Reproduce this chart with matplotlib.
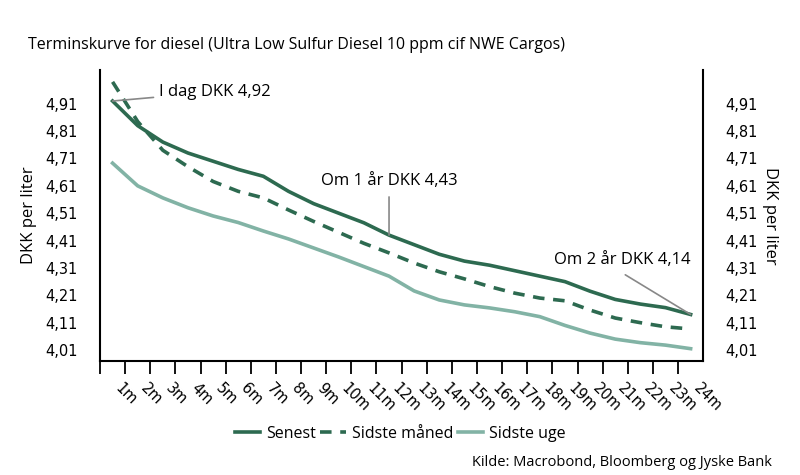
import matplotlib.pyplot as plt
from matplotlib.ticker import FixedLocator

# data
months = [f"{i}m" for i in range(1, 25)]
senest = [4.92, 4.83, 4.77, 4.73, 4.70, 4.67, 4.645, 4.59, 4.545, 4.51, 4.475, 4.43,
          4.395, 4.36, 4.335, 4.32, 4.30, 4.28, 4.26, 4.225, 4.195, 4.178, 4.165, 4.14]
sidste_maaned = [4.99, 4.845, 4.74, 4.68, 4.626, 4.59, 4.566, 4.522, 4.48, 4.44, 4.40, 4.365,
                 4.328, 4.296, 4.27, 4.242, 4.218, 4.20, 4.19, 4.156, 4.127, 4.11, 4.095, 4.087]
sidste_uge = [4.693, 4.61, 4.566, 4.53, 4.50, 4.476, 4.445, 4.416, 4.383, 4.35, 4.315, 4.28,
              4.226, 4.193, 4.175, 4.164, 4.15, 4.132, 4.10, 4.072, 4.05, 4.037, 4.028, 4.015]
yticks = [4.01, 4.11, 4.21, 4.31, 4.41, 4.51, 4.61, 4.71, 4.81, 4.91]
ytick_labels = ["4,01", "4,11", "4,21", "4,31", "4,41", "4,51", "4,61", "4,71", "4,81", "4,91"]

dark = "#2d6a50"
light = "#82b3a5"
grey = "#888888"
txt = "Open Sans"

fig = plt.figure(figsize=(8, 4.75), dpi=100)
ax = fig.add_axes([0.125, 0.24, 0.754, 0.613])
x = list(range(len(months)))

ax.plot(x, senest, color=dark, lw=2.6, label="Senest")
ax.plot(x, sidste_maaned, color=dark, lw=2.6, ls=(0, (3.2, 2.4)), label="Sidste måned")
ax.plot(x, sidste_uge, color=light, lw=2.6, label="Sidste uge")

ax.set_xlim(-0.5, len(months) - 0.5)
ax.set_ylim(3.97, 5.034)

# x labels at category centers, tick marks at boundaries
ax.set_xticks(x)
ax.set_xticklabels(months, rotation=-45, ha="left", fontsize=10.5)
ax.tick_params(axis="x", which="major", length=0, pad=14)
ax.xaxis.set_minor_locator(FixedLocator([i - 0.5 for i in x]))
ax.tick_params(axis="x", which="minor", length=9, width=1.3, direction="out")

ax.set_yticks(yticks)
ax.set_yticklabels(ytick_labels, fontsize=10.5)
ax.tick_params(axis="y", length=0, pad=16, labelright=True, right=False)

for s in ["left", "right", "bottom"]:
    ax.spines[s].set_linewidth(1.5)
ax.spines["top"].set_visible(False)

ax.set_ylabel("DKK per liter", fontsize=12, family=txt)
ax.yaxis.set_label_coords(-0.104, 0.5)
ax.text(1.111, 0.5, "DKK per liter", transform=ax.transAxes, fontsize=12, family=txt,
        rotation=-90, ha="center", va="center")

# annotations
ax.annotate("I dag DKK 4,92", xy=(0, senest[0]), xytext=(1.85, 4.953),
            fontsize=12, family=txt, va="center", ha="left",
            arrowprops=dict(arrowstyle="-", color=grey, lw=1.2, shrinkA=2, shrinkB=0))
ax.annotate("Om 1 år DKK 4,43", xy=(11, senest[11]), xytext=(11, 4.60),
            fontsize=12, family=txt, va="bottom", ha="center",
            arrowprops=dict(arrowstyle="-", color=grey, lw=1.2, shrinkA=4, shrinkB=0))
ax.text(23.0, 4.31, "Om 2 år DKK 4,14", fontsize=12, family=txt, va="bottom", ha="right")
ax.annotate("", xy=(23, senest[23]), xytext=(20.4, 4.285),
            arrowprops=dict(arrowstyle="-", color=grey, lw=1.2, shrinkA=0, shrinkB=0))

fig.text(0.035, 0.905, "Terminskurve for diesel (Ultra Low Sulfur Diesel 10 ppm cif NWE Cargos)",
         fontsize=11.5, family=txt, va="center")
fig.legend(loc="center", bbox_to_anchor=(0.5, 0.087), ncol=3, frameon=False,
           prop={"family": txt, "size": 11.5}, handlelength=1.6, handletextpad=0.35,
           columnspacing=0.3)
fig.text(0.965, 0.027, "Kilde: Macrobond, Bloomberg og Jyske Bank", fontsize=10.5,
         family=txt, ha="right", va="center")

fig.savefig("out.png")
